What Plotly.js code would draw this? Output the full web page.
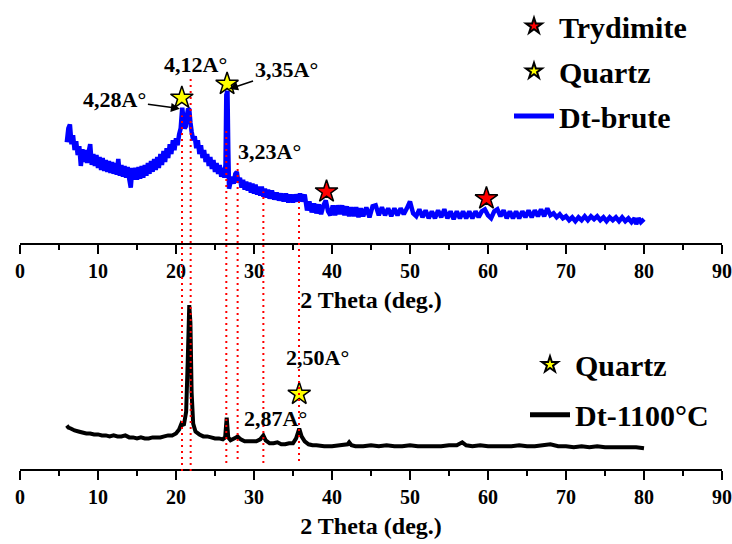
<!DOCTYPE html>
<html>
<head>
<meta charset="utf-8">
<script src="https://cdn.plot.ly/plotly-3.0.1.min.js"></script>
<style>html,body{margin:0;padding:0;background:#fff;}#chart{width:732px;height:544px;}</style>
</head>
<body>
<div id="chart"></div>
<script>
// ---------- DATA ----------
// Dt-brute (raw sample) XRD pattern: 2θ (deg.) and intensity (a.u.)
const bruteTheta = [6.0,6.2,6.4,6.6,6.8,7.0,7.2,7.4,7.6,7.8,8.0,8.2,8.4,8.6,8.8,9.0,9.2,9.4,9.6,9.8,
10.0,10.2,10.4,10.6,10.8,11.0,11.2,11.4,11.6,11.8,12.0,12.2,12.4,12.6,12.8,13.0,13.2,13.4,13.6,13.8,
14.0,14.2,14.4,14.6,14.8,15.0,15.2,15.4,15.6,15.8,16.0,16.2,16.4,16.6,16.8,17.0,17.2,17.4,17.6,17.8,
18.0,18.2,18.4,18.6,18.8,19.0,19.2,19.4,19.6,19.8,20.0,20.2,20.4,20.6,20.8,20.95,21.1,21.25,21.4,21.55,
21.7,21.85,22.0,22.2,22.4,22.6,22.8,23.0,23.2,23.4,23.6,23.8,24.0,24.2,24.4,24.6,24.8,25.0,25.2,25.4,
25.6,25.8,26.0,26.2,26.35,26.45,26.6,26.7,26.8,27.0,27.2,27.4,27.6,27.8,28.0,28.2,28.4,28.6,28.8,29.0,
29.2,29.4,29.6,29.8,30.0,30.2,30.4,30.6,30.8,31.0,31.2,31.4,31.6,31.8,32.0,32.3,32.6,32.9,33.2,33.5,
33.8,34.1,34.4,34.7,35.0,35.3,35.6,35.9,36.2,36.5,36.8,37.1,37.4,37.7,38.0,38.3,38.6,38.9,39.2,39.5,
39.8,40.1,40.4,40.7,41.0,41.3,41.6,41.9,42.2,42.5,42.8,43.1,43.4,43.7,44.0,44.4,44.8,45.2,45.6,46.0,
46.4,46.8,47.2,47.6,48.0,48.4,48.8,49.2,49.6,50.0,50.4,50.8,51.2,51.6,52.0,52.4,52.8,53.2,53.6,54.0,
54.4,54.8,55.2,55.6,56.0,56.4,56.8,57.2,57.6,58.0,58.4,58.8,59.2,59.6,60.0,60.4,60.8,61.2,61.6,62.0,
62.4,62.8,63.2,63.6,64.0,64.4,64.8,65.2,65.6,66.0,66.4,66.8,67.2,67.6,68.0,68.4,68.8,69.2,69.6,70.0,
70.4,70.8,71.2,71.6,72.0,72.4,72.8,73.2,73.6,74.0,74.4,74.8,75.2,75.6,76.0,76.4,76.8,77.2,77.6,78.0,
78.4,78.8,79.0,79.3,79.6,80.0];
const bruteIntensity = [102,116,120,100,109,94,103,89,98,78,95,82,94,81,92,100,79,90,78,89,
76,87,74,86,73,84,72,83,71,82,70,81,69,85,68,79,67,78,66,77,
65,56,76,64,76,64,77,65,78,66,79,68,81,70,83,72,85,74,87,76,
90,79,93,82,96,86,100,90,104,94,106,99,110,116,137,126,116,118,129,136,
135,122,113,104,108,96,104,90,99,86,94,82,90,78,87,75,84,72,81,70,
79,67,76,66,80,150,154,95,55,62,67,60,70,72,61,66,56,64,54,62,
53,61,51,60,50,59,49,57,48,57,47,55,46,54,45,53,44,51,43,50,
42,50,41,49,41,49,42,50,42,49,33,42,31,40,30,39,29,38,43,32,
28,38,28,38,29,38,28,37,27,36,27,36,26,35,27,36,26,37,38,28,
36,28,35,27,35,28,35,29,35,42,30,27,34,26,33,25,32,25,33,26,
34,25,32,24,32,25,32,25,32,25,32,26,32,34,28,25,32,34,27,33,
25,32,25,32,25,32,26,33,26,33,27,34,27,35,28,30,26,29,25,27,
23,26,22,26,23,27,23,27,24,27,23,26,22,26,23,26,22,26,22,25,
21,25,19,25,21,24];

// Dt-1100°C (calcined sample) XRD pattern
const calcTheta = [6.0,6.2,6.5,7.0,7.5,8.0,8.5,9.0,9.5,10.0,10.5,11.0,11.5,12.0,12.5,13.0,13.5,14.0,14.5,15.0,
15.5,16.0,16.5,17.0,17.5,18.0,18.5,19.0,19.5,20.0,20.4,20.7,21.0,21.3,21.5,21.7,21.85,22.0,22.2,22.5,
23.0,23.5,24.0,24.5,25.0,25.5,26.0,26.3,26.5,26.7,27.0,27.5,27.9,28.3,28.8,29.3,29.8,30.3,30.8,31.2,
31.5,32.0,32.5,33.0,33.5,34.0,34.5,35.0,35.4,35.8,36.1,36.5,37.0,37.5,38.0,39.0,40.0,41.0,42.0,42.2,
42.5,43.0,44.0,45.0,46.0,47.0,48.0,49.0,50.0,51.0,52.0,53.0,54.0,55.0,56.0,56.7,57.2,58.0,59.0,60.0,
61.0,62.0,63.0,64.0,65.0,66.0,67.0,68.0,69.0,70.0,71.0,72.0,73.0,74.0,75.0,76.0,77.0,78.0,79.0,80.0];
const calcIntensity = [44,42,41,39,38,37,36,36,35,35,34,34,33,34,33,33,34,32,32,31,
32,31,31,32,32,32,33,34,34,36,40,46,44,58,108,166,148,78,46,38,
35,33,33,32,31,31,30,32,52,32,29,31,33,30,28,28,28,28,30,34,
29,26,26,27,25,25,26,26,31,41,33,28,25,24,24,23,23,24,25,27,
24,23,23,24,23,24,23,23,24,23,23,23,23,24,24,27,24,23,24,23,
23,23,23,24,23,23,24,25,23,23,22,23,22,23,22,22,22,22,22,21];

// Phase markers (star positions on the patterns)
const quartzTopTheta = [20.75, 26.55];
const quartzTopIntensity = [147, 161];
const trydimiteTheta = [39.3, 59.8];
const trydimiteIntensity = [52, 45];
const quartzBottomTheta = [35.8];
const quartzBottomIntensity = [76];

// Reference peak positions (red dotted guide lines), 2θ
const guideTheta = [20.77, 21.88, 26.45, 27.9, 31.2, 35.77];

// Category / tick / label texts
const seriesNames = ['Dt-brute', 'Dt-1100°C'];
const phaseNames = ['Trydimite', 'Quartz'];
const peakLabels = ['4,28A°', '4,12A°', '3,35A°', '3,23A°', '2,50A°', '2,87A°'];
const axisTitle = '2 Theta (deg.)';
const tickValues = [0,10,20,30,40,50,60,70,80,90];

// ---------- STYLE / LAYOUT ----------
const FONT = 'Liberation Serif, Times New Roman, serif';
const W = 732, H = 544, ML = 20, MR = 10;
const plotW = W - ML - MR;
const px2paperX = p => (p - ML) / plotW;
const py2paperY = p => (H - p) / H;

const axisCommon = {
  range: [0, 90], tickmode: 'array', tickvals: tickValues, ticktext: tickValues.map(String),
  ticks: 'outside', ticklen: 9, tickwidth: 2, tickcolor: '#000',
  showline: true, linewidth: 2.5, linecolor: '#000', mirror: false,
  showgrid: false, zeroline: false, automargin: false, fixedrange: true,
  tickfont: {family: FONT, size: 20, color: '#000', weight: 'bold'},
  minor: {dtick: 5, tick0: 0, ticks: 'outside', ticklen: 5, tickwidth: 2, tickcolor: '#000', showgrid: false},
  title: {text: axisTitle, font: {family: FONT, size: 24, color: '#000', weight: 'bold'}, standoff: 10}
};

const starStyle = (fill) => ({symbol: 'star', size: 17, color: fill, line: {color: '#000', width: 1.5}});

const traces = [
  {x: bruteTheta, y: bruteIntensity, xaxis: 'x', yaxis: 'y', type: 'scatter', mode: 'lines',
   name: seriesNames[0], line: {color: '#0000FF', width: 4.5, simplify: false, shape: 'linear'},
   legend: 'legend', legendgroup: 'g3', legendrank: 3},
  {x: calcTheta, y: calcIntensity, xaxis: 'x2', yaxis: 'y2', type: 'scatter', mode: 'lines',
   name: seriesNames[1], line: {color: '#000', width: 4, simplify: false, shape: 'linear'},
   legend: 'legend2', legendgroup: 'h2', legendrank: 2},
  {x: trydimiteTheta, y: trydimiteIntensity, xaxis: 'x', yaxis: 'y', type: 'scatter', mode: 'markers',
   name: phaseNames[0], marker: starStyle('#FF0000'), cliponaxis: false, legend: 'legend', legendgroup: 'g1', legendrank: 1},
  {x: quartzTopTheta, y: quartzTopIntensity, xaxis: 'x', yaxis: 'y', type: 'scatter', mode: 'markers',
   name: phaseNames[1], marker: starStyle('#FFFF00'), cliponaxis: false, legend: 'legend', legendgroup: 'g2', legendrank: 2},
  {x: quartzBottomTheta, y: quartzBottomIntensity, xaxis: 'x2', yaxis: 'y2', type: 'scatter', mode: 'markers',
   name: phaseNames[1], marker: starStyle('#FFFF00'), cliponaxis: false, legend: 'legend2', legendgroup: 'h1', legendrank: 1}
];

// guide line vertical extents (pixels)
const guideTopPx = [110, 73, 123, 155, 187, 197];
const guideBotPx = [470, 470, 462, 458, 462, 460];
const shapes = guideTheta.map((t, i) => ({
  type: 'line', xref: 'x', yref: 'paper', x0: t, x1: t,
  y0: py2paperY(guideBotPx[i]), y1: py2paperY(guideTopPx[i]),
  line: {color: '#FF0000', width: 2, dash: '2px,4px'}, layer: 'above'
}));

const annFont = {family: FONT, size: 22, color: '#000', weight: 'bold'};
const annotations = [
  {text: peakLabels[0], xref: 'x', yref: 'y', x: 20.5, y: 136, ax: -65, ay: -9,
   showarrow: true, arrowhead: 2, arrowsize: 1.2, arrowwidth: 1.5, arrowcolor: '#000', font: annFont},
  {text: peakLabels[1], xref: 'x', yref: 'y', x: 22.44, y: 181, showarrow: false, font: annFont},
  {text: peakLabels[2], xref: 'x', yref: 'y', x: 26.8, y: 156, ax: 57, ay: -19,
   showarrow: true, arrowhead: 2, arrowsize: 1.2, arrowwidth: 1.5, arrowcolor: '#000', font: annFont},
  {text: peakLabels[3], xref: 'x', yref: 'y', x: 32.05, y: 93, showarrow: false, font: annFont},
  {text: peakLabels[4], xref: 'x2', yref: 'y2', x: 38.2, y: 113, showarrow: false, font: annFont},
  {text: peakLabels[5], xref: 'x2', yref: 'y2', x: 32.7, y: 51, showarrow: false, font: annFont}
];

const legendFont = {family: FONT, size: 30, color: '#000', weight: 'bold'};
const layout = {
  width: W, height: H,
  margin: {l: ML, r: MR, t: 0, b: 0, pad: 0},
  paper_bgcolor: '#fff', plot_bgcolor: 'rgba(0,0,0,0)',
  showlegend: true,
  xaxis: Object.assign({}, axisCommon, {anchor: 'y', domain: [0, 1]}),
  yaxis: {domain: [py2paperY(239), 1], range: [0, 239], visible: false, fixedrange: true},
  xaxis2: Object.assign({}, axisCommon, {anchor: 'y2', domain: [0, 1]}),
  yaxis2: {domain: [py2paperY(468), py2paperY(272)], range: [0, 196], visible: false, fixedrange: true},
  legend: {x: px2paperX(509), xanchor: 'left', y: py2paperY(-7), yanchor: 'top', font: legendFont,
           bgcolor: 'rgba(0,0,0,0)', borderwidth: 0, tracegroupgap: 3, itemwidth: 40, itemsizing: 'constant'},
  legend2: {x: px2paperX(525), xanchor: 'left', y: py2paperY(336), yanchor: 'top', font: legendFont,
            bgcolor: 'rgba(0,0,0,0)', borderwidth: 0, tracegroupgap: 8, itemwidth: 40, itemsizing: 'constant'},
  shapes: shapes,
  annotations: annotations
};

Plotly.newPlot('chart', traces, layout, {staticPlot: true, displayModeBar: false});
</script>
</body>
</html>
